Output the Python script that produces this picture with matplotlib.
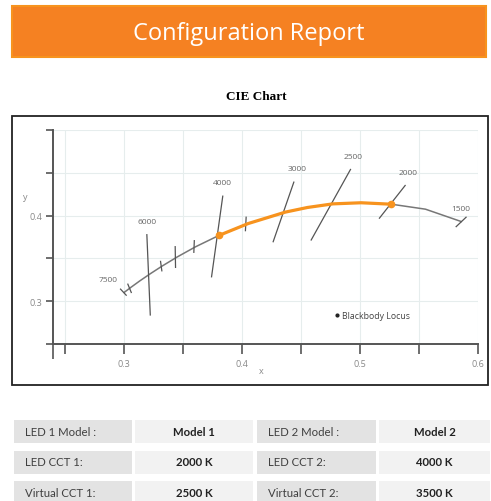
import matplotlib.pyplot as plt
from matplotlib.patches import Rectangle
from matplotlib.lines import Line2D

# blackbody locus (CIE 1931 x, y)
locus_cct = [7500, 7000, 6500, 6000, 5500, 5000, 4500, 4000, 3500, 3000, 2750, 2500, 2250, 2000, 1750, 1500]
locus_x = [0.3003, 0.3064, 0.3135, 0.3221, 0.3325, 0.3451, 0.3608, 0.3805, 0.4053, 0.4369,
           0.4556, 0.4770, 0.5010, 0.5267, 0.5555, 0.5857]
locus_y = [0.3103, 0.3166, 0.3237, 0.3318, 0.3411, 0.3516, 0.3636, 0.3768, 0.3907, 0.4041,
           0.4095, 0.4137, 0.4150, 0.4133, 0.4075, 0.3931]

# tuning range between the two LEDs
mix_from = 4000
mix_to = 2000

# isotherm lines
iso_cct = [7500, 7000, 6000, 5500, 5000, 4500, 4000, 3500, 3000, 2500, 2000, 1500]
iso_x0 = [0.2972, 0.3034, 0.3195, 0.3311, 0.3435, 0.3597, 0.3838, 0.4036, 0.4440, 0.4920, 0.5383, 0.5899]
iso_y0 = [0.3141, 0.3199, 0.3777, 0.3465, 0.3637, 0.3707, 0.4227, 0.3981, 0.4391, 0.4539, 0.4352, 0.3981]
iso_x1 = [0.3020, 0.3063, 0.3224, 0.3322, 0.3438, 0.3593, 0.3743, 0.4030, 0.4265, 0.4587, 0.5165, 0.5815]
iso_y1 = [0.3070, 0.3102, 0.2839, 0.3355, 0.3395, 0.3571, 0.3285, 0.3824, 0.3695, 0.3715, 0.3970, 0.3871]

# cct labels
label_cct = ['7500', '6000', '4000', '3000', '2500', '2000', '1500']
label_x = [0.2868, 0.3198, 0.3838, 0.4465, 0.4939, 0.5411, 0.5857]
label_y = [0.3250, 0.3934, 0.4383, 0.4556, 0.4692, 0.4501, 0.4082]

# report table
led1_labels = ['LED 1 Model :', 'LED CCT 1:', 'Virtual CCT 1:']
led1_values = ['Model 1', '2000 K', '2500 K']
led2_labels = ['LED 2 Model :', 'LED CCT 2:', 'Virtual CCT 2:']
led2_values = ['Model 2', '4000 K', '3500 K']

W, H = 491, 502
fig = plt.figure(figsize=(W / 100, H / 100), dpi=100)

# page layer in pixel coords
page = fig.add_axes([0, 0, 1, 1])
page.set_xlim(0, W)
page.set_ylim(H, 0)
page.axis('off')

page.add_patch(Rectangle((12, 7), 474, 51, facecolor='#f58122', edgecolor='#f7931e', lw=1.5))
page.text(249, 34, 'Configuration Report', color='white', fontsize=17,
          family='Open Sans', ha='center', va='center')
page.text(256, 97, 'CIE Chart', fontsize=9.5, family='Liberation Serif',
          weight='bold', ha='center', va='center')
page.add_patch(Rectangle((12, 117), 476, 269, facecolor='white', edgecolor='#222222', lw=1.3))

# table
col_x = [14, 135, 257, 379]
col_w = [118, 118, 119, 111]
row_y = [421, 451.5, 482]
row_h = 23
for i in range(3):
    cells = [led1_labels[i], led1_values[i], led2_labels[i], led2_values[i]]
    for j, txt in enumerate(cells):
        shade = '#e3e3e3' if j % 2 == 0 else '#f2f2f2'
        page.add_patch(Rectangle((col_x[j], row_y[i]), col_w[j], row_h, facecolor=shade, lw=0))
        if j % 2 == 0:
            page.text(col_x[j] + 11, row_y[i] + row_h / 2, txt, fontsize=8.2, family='Lato',
                      color='#404040', ha='left', va='center')
        else:
            page.text(col_x[j] + col_w[j] / 2, row_y[i] + row_h / 2, txt, fontsize=8.2,
                      family='Lato', weight='bold', color='#222222', ha='center', va='center')

# chart
ax = fig.add_axes([53 / W, 1 - 345 / H, 425 / W, 214 / H])
ax.set_facecolor('none')
ax.set_xlim(0.24, 0.6)
ax.set_ylim(0.25, 0.5)

xt = [0.25, 0.3, 0.35, 0.4, 0.45, 0.5, 0.55, 0.6]
yt = [0.25, 0.3, 0.35, 0.4, 0.45, 0.5]
ax.set_xticks(xt)
ax.set_xticklabels(['', '0.3', '', '0.4', '', '0.5', '', '0.6'])
ax.set_yticks(yt)
ax.set_yticklabels(['', '0.3', '', '0.4', '', ''])
ax.set_xticks([0.24], minor=True)
ax.tick_params(axis='x', which='major', length=7, width=1.2, color='#555555',
               labelsize=6.5, labelcolor='#888888', pad=4)
ax.tick_params(axis='x', which='minor', length=11, width=1.2, color='#555555')
ax.tick_params(axis='y', which='major', length=5, width=1.2, color='#555555',
               labelsize=6.5, labelcolor='#888888', pad=3)
for lab in ax.get_xticklabels() + ax.get_yticklabels():
    lab.set_family('Open Sans')
ax.grid(True, color='#e6eded', lw=0.8)
ax.set_axisbelow(True)
for s in ['top', 'right']:
    ax.spines[s].set_visible(False)
for s in ['left', 'bottom']:
    ax.spines[s].set_color('#555555')
    ax.spines[s].set_linewidth(1.4)

ax.set_xlabel('x', fontsize=6.5, color='#888888', family='Open Sans')
ax.xaxis.set_label_coords(0.489, -0.105)
ax.set_ylabel('y', fontsize=6.5, color='#888888', family='Open Sans', rotation=0)
ax.yaxis.set_label_coords(-0.066, 0.668)

ax.plot(locus_x, locus_y, color='#777777', lw=1.1, zorder=3)
for i in range(len(iso_cct)):
    ax.plot([iso_x0[i], iso_x1[i]], [iso_y0[i], iso_y1[i]], color='#555555', lw=0.9, zorder=3)
for t, x, y in zip(label_cct, label_x, label_y):
    ax.text(x, y, t, fontsize=6, color='#666666', family='Open Sans', ha='center', va='center')

i0, i1 = locus_cct.index(mix_from), locus_cct.index(mix_to)
ax.plot(locus_x[i0:i1 + 1], locus_y[i0:i1 + 1], color='#f7931e', lw=2.3, zorder=4,
        solid_capstyle='round')
ax.plot([locus_x[i0], locus_x[i1]], [locus_y[i0], locus_y[i1]], 'o', color='#f7931e',
        ms=4.5, zorder=5)

h = Line2D([], [], marker='o', ls='', color='#222222', ms=2)
leg = ax.legend([h], ['Blackbody Locus'], loc='center left', bbox_to_anchor=(0.662, 0.132),
                frameon=False, handlelength=0.6, handletextpad=0.3, borderpad=0,
                borderaxespad=0, prop={'family': 'Open Sans', 'size': 6.3})
for t in leg.get_texts():
    t.set_color('#444444')

fig.savefig('out.png', dpi=100)
